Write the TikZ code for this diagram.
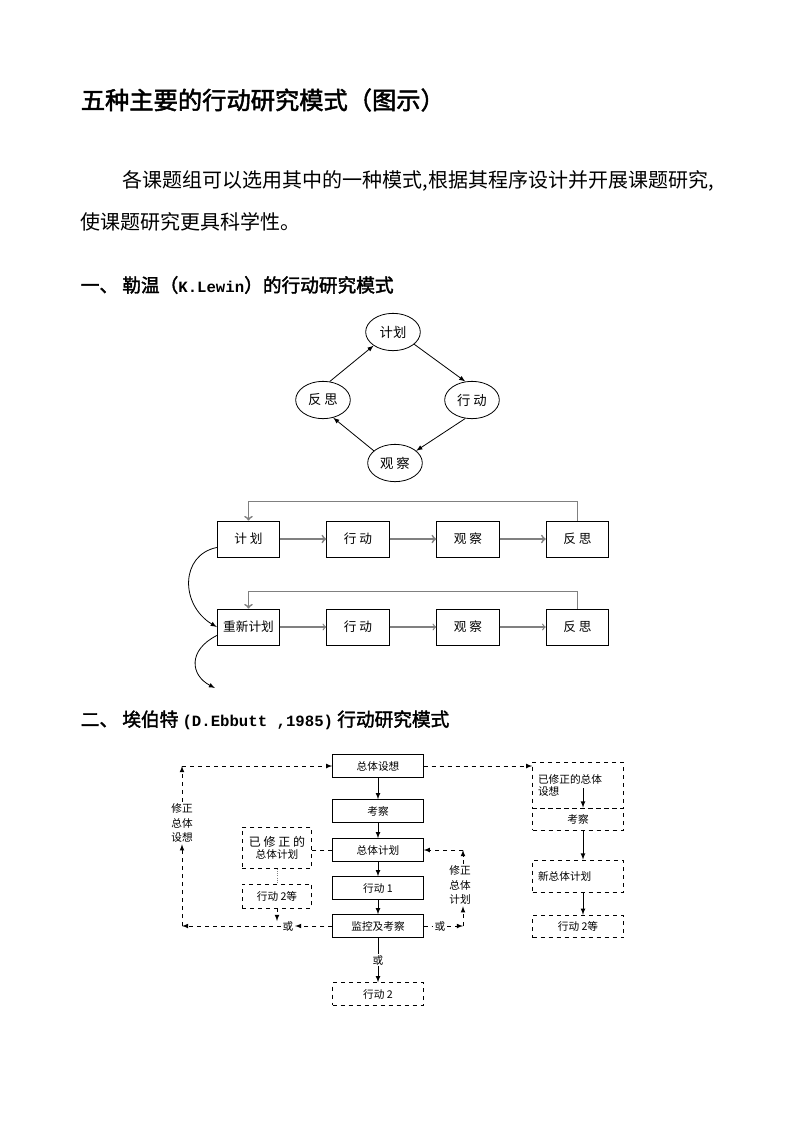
\documentclass[tikz,border=0pt]{standalone}
\usepackage{fontspec}
\setmainfont{Noto Sans CJK SC}[AutoFakeBold=2]
\newfontfamily\latinmono{Liberation Mono}[Scale=0.84]
\usetikzlibrary{shapes,positioning}

\begin{document}
\begin{tikzpicture}[x=0.75pt,y=-0.75pt,line width=0.6pt,
	cyc/.style={draw,ellipse,minimum width=41pt,minimum height=28pt,inner sep=1pt,font=\fontsize{10}{11}\selectfont},
	stagebox/.style={draw,minimum width=47pt,minimum height=27pt,font=\fontsize{9.5}{10}\selectfont},
	gline/.style={draw=gray,line width=1.3pt,->},
	solidbox/.style={draw,minimum width=68pt,minimum height=17pt,inner sep=1pt,font=\fontsize{8}{9}\selectfont},
	dashbox/.style={solidbox,dashed},
	lbl/.style={font=\fontsize{8}{11}\selectfont,align=center,inner sep=1pt},
	dline/.style={dashed,-latex}]
	\useasboundingbox[fill=white] (0,0) rectangle (793,1122);

	% heading and text
	\node[anchor=west,font=\fontsize{18.2}{20}\selectfont\bfseries] (title) at (76,100) {五种主要的行动研究模式（图示）};
	\node[anchor=west,font=\fontsize{15}{16}\selectfont] (para1) at (118,181) {各课题组可以选用其中的一种模式,根据其程序设计并开展课题研究,};
	\node[anchor=west,font=\fontsize{15}{16}\selectfont] (para2) at (76,222) {使课题研究更具科学性。};
	\node[anchor=west,font=\fontsize{14}{16}\selectfont\bfseries] (sec1) at (76,285) {一、 勒温（{\latinmono K.Lewin}）的行动研究模式};
	\node[anchor=west,font=\fontsize{14}{16}\selectfont\bfseries] (sec2) at (76,720) {二、 埃伯特 {\latinmono (D.Ebbutt ,1985)} 行动研究模式};

	% Lewin cycle
	\node[cyc] (plan) at (393,332) {计划};
	\node[cyc] (act) at (472,400) {行 动};
	\node[cyc] (refl) at (323,400) {反 思};
	\node[cyc] (obs) at (395,463) {观 察};
	\draw[-latex] (refl.70) -- (plan.215);
	\draw[-latex] (plan.-30) -- (act.110);
	\draw[-latex] (act.-110) -- (obs.30);
	\draw[-latex] (obs.150) -- (refl.-60);

	% Lewin chain
	\node[stagebox] (p1) at (248.5,539) {计 划};
	\node[stagebox] (a1) at (358,539) {行 动};
	\node[stagebox] (o1) at (468,539) {观 察};
	\node[stagebox] (r1) at (577.5,539) {反 思};
	\node[stagebox] (p2) at (248.5,627) {重新计划};
	\node[stagebox] (a2) at (358,627) {行 动};
	\node[stagebox] (o2) at (468,627) {观 察};
	\node[stagebox] (r2) at (577.5,627) {反 思};
	\draw[gline] (p1) -- (a1);
	\draw[gline] (a1) -- (o1);
	\draw[gline] (o1) -- (r1);
	\draw[gline] (r1.north) -- ++(0,-19) -| (p1.north);
	\draw[gline,line width=0.9pt] (p2) -- (a2);
	\draw[gline,line width=0.9pt] (a2) -- (o2);
	\draw[gline,line width=0.9pt] (o2) -- (r2);
	\draw[gline] (r2.north) -- ++(0,-17) -| (p2.north);
	\coordinate (next) at (215,688);
	\draw[-latex] (p1.195) .. controls (180,555) and (180,605) .. (p2.west);
	\draw[-latex] (p2.195) .. controls (188,650) and (190,675) .. (next);

	% Ebbutt
	\node[solidbox] (idea) at (378,766) {总体设想};
	\node[solidbox] (recon) at (378,811) {考察};
	\node[solidbox] (gplan) at (378,850) {总体计划};
	\node[solidbox] (act1) at (378,888) {行动 1};
	\node[solidbox] (mon) at (378,926) {监控及考察};
	\node[dashbox] (act2) at (378,994) {行动 2};
	\draw[-latex] (idea) -- (recon);
	\draw[-latex] (recon) -- (gplan);
	\draw[-latex] (gplan) -- (act1);
	\draw[-latex] (act1) -- (mon);
	\draw[-latex] (mon) -- node[lbl,fill=white] {或} (act2);

	% left loop
	\node[lbl] (fixidea) at (182,823) {修正\\总体\\设想};
	\node[lbl] (orl) at (288,926) {或};
	\coordinate (ctl) at (182,766);
	\coordinate (cbl) at (182,926);
	\draw[dline] (mon) -- (orl);
	\draw[dline] (orl) -- (cbl);
	\draw[dline] (cbl) -- (fixidea);
	\draw[dline] (fixidea) -- (ctl);
	\draw[dline] (ctl) -- (idea);
	\node[dashbox,minimum width=52pt,minimum height=31pt,align=center] (rplan) at (277,848) {{\fontsize{9}{11}\selectfont 已 修 正 的}\\总体计划};
	\node[dashbox,minimum width=52pt,minimum height=18pt] (act2e) at (277,896) {行动 2等};
	\coordinate (a2end) at (277,921);
	\draw[dashed] (gplan.west) -- (gplan.west -| rplan.east);
	\draw[densely dotted,gray] (rplan) -- (act2e);
	\draw[dline] (act2e) -- (a2end);

	% right loop
	\node[lbl] (orr) at (440,926) {或};
	\node[lbl] (fixplan) at (460,885) {修正\\总体\\计划};
	\coordinate (cbr) at (463,926);
	\coordinate (ctr) at (463,850);
	\draw[dashed] (mon) -- (orr);
	\draw[dline] (orr) -- (cbr);
	\draw[dline] (cbr) -- (fixplan.south -| cbr);
	\draw[dline] (fixplan.north -| ctr) -- (ctr);
	\draw[dline] (ctr) -- (gplan);

	% revised cycle
	\node[dashbox,minimum height=34.5pt,text width=60pt,align=left] (nidea) at (578,785) {已修正的总体\\设想};
	\node[dashbox,minimum height=16.5pt] (nrecon) at (578,819) {考察};
	\node[dashbox,minimum height=24pt,text width=60pt,align=left] (nplan) at (578,876) {新总体计划};
	\node[dashbox] (nact) at (578,926.5) {行动 2等};
	\draw[dline] (idea.east) -- (idea.east -| nidea.west);
	\draw[-latex] ([xshift=3.75pt,yshift=15pt]nidea.south) -- ([xshift=3.75pt]nrecon.north);
	\draw[-latex] ([xshift=3.75pt]nrecon.south) -- ([xshift=3.75pt]nplan.north);
	\draw[-latex] ([xshift=3.75pt]nplan.south) -- ([xshift=3.75pt]nact.north);
\end{tikzpicture}
\end{document}
